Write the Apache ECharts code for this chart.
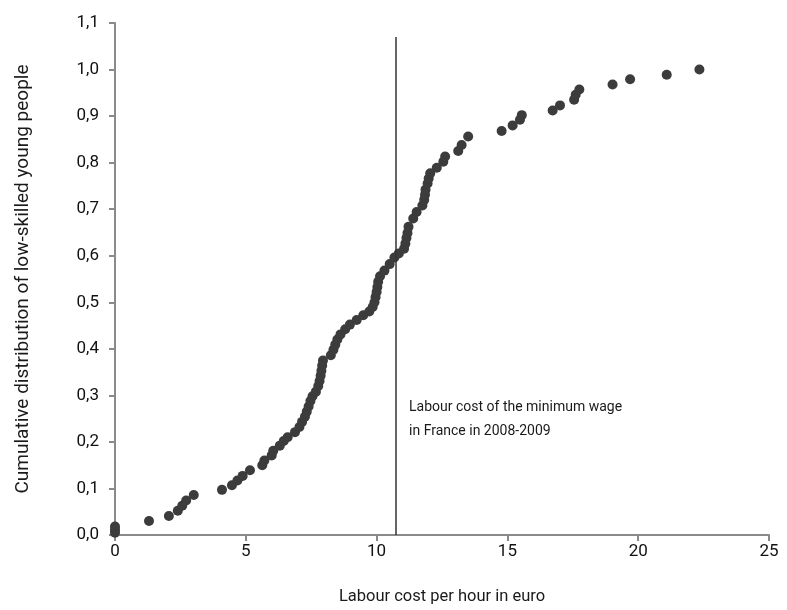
<!DOCTYPE html>
<html>
<head>
<meta charset="utf-8">
<script src="https://cdn.jsdelivr.net/npm/echarts@6/dist/echarts.min.js"></script>
<style>
html,body{margin:0;padding:0;background:#fff;}
#chart{width:787px;height:610px;}
</style>
</head>
<body>
<div id="chart"></div>
<script>
const costValues = [
  0, 0, 0, 1.3, 2.06, 2.40, 2.57, 2.72, 3.01, 4.09,
  4.47, 4.68, 4.88, 5.16, 5.63, 5.71, 5.99, 6.05, 6.30, 6.45,
  6.60, 6.88, 7.05, 7.15, 7.26, 7.33, 7.40, 7.47, 7.55, 7.68,
  7.77, 7.82, 7.86, 7.89, 7.92, 7.95, 8.25, 8.35, 8.42, 8.50,
  8.62, 8.80, 8.98, 9.24, 9.49, 9.72, 9.85, 9.92, 9.96, 10.00,
  10.03, 10.06, 10.13, 10.30, 10.50, 10.68, 10.85, 11.05, 11.10, 11.14,
  11.18, 11.22, 11.40, 11.53, 11.75, 11.82, 11.85, 11.87, 11.95, 11.99,
  12.05, 12.30, 12.55, 12.62, 13.12, 13.25, 13.50, 14.78, 15.20, 15.48,
  15.55, 16.73, 17.01, 17.55, 17.61, 17.75, 19.02, 19.69, 21.09, 22.34
];
const cumulativeShare = [
  0.005, 0.011, 0.018, 0.030, 0.041, 0.052, 0.063, 0.074, 0.086, 0.097,
  0.107, 0.117, 0.127, 0.139, 0.150, 0.160, 0.171, 0.181, 0.192, 0.202,
  0.210, 0.221, 0.232, 0.243, 0.254, 0.265, 0.276, 0.288, 0.298, 0.308,
  0.320, 0.331, 0.342, 0.353, 0.364, 0.375, 0.386, 0.398, 0.409, 0.420,
  0.431, 0.442, 0.452, 0.462, 0.472, 0.480, 0.490, 0.500, 0.511, 0.522,
  0.533, 0.544, 0.556, 0.568, 0.582, 0.596, 0.605, 0.615, 0.626, 0.638,
  0.649, 0.662, 0.680, 0.694, 0.708, 0.720, 0.731, 0.742, 0.755, 0.766,
  0.777, 0.789, 0.802, 0.813, 0.825, 0.838, 0.856, 0.868, 0.880, 0.892,
  0.902, 0.912, 0.923, 0.935, 0.946, 0.957, 0.968, 0.979, 0.989, 1.000
];
const minWageCost = 10.74;
const minWageLineTop = 1.07;
const annotationPos = [11.24, 0.249];
const annotationText = 'Labour cost of the minimum wage\nin France in 2008-2009';
const xAxisTitle = 'Labour cost per hour in euro';
const yAxisTitle = 'Cumulative distribution of low-skilled young people';

const points = costValues.map((x, i) => [x, cumulativeShare[i]]);
const FONT = 'Roboto';

const chart = echarts.init(document.getElementById('chart'), null, {renderer: 'canvas'});
chart.setOption({
  animation: false,
  backgroundColor: '#fff',
  grid: {left: 115, right: 18, top: 23, bottom: 74, containLabel: false},
  xAxis: {
    type: 'value', min: 0, max: 25, interval: 5,
    name: xAxisTitle, nameLocation: 'middle', nameGap: 53,
    nameTextStyle: {fontFamily: FONT, fontSize: 16.5, color: '#1a1a1a'},
    axisLine: {lineStyle: {color: '#8a8a8a', width: 2}},
    axisTick: {show: true, length: 6, lineStyle: {color: '#8a8a8a', width: 2}},
    axisLabel: {fontFamily: FONT, fontSize: 17, color: '#111', margin: 8},
    splitLine: {show: false}
  },
  yAxis: {
    type: 'value', min: 0, max: 1.1, interval: 0.1,
    name: yAxisTitle, nameLocation: 'middle', nameGap: 82,
    nameTextStyle: {fontFamily: FONT, fontSize: 19, color: '#1a1a1a'},
    axisLine: {show: true, lineStyle: {color: '#8a8a8a', width: 2}},
    axisTick: {show: true, length: 6, lineStyle: {color: '#8a8a8a', width: 2}},
    axisLabel: {fontFamily: FONT, fontSize: 17, color: '#111', margin: 16,
      formatter: v => v.toFixed(1).replace('.', ',')},
    splitLine: {show: false}
  },
  series: [{
    type: 'scatter',
    data: points,
    symbolSize: 10,
    itemStyle: {color: '#3c3c3c', opacity: 1},
    markLine: {
      silent: true, symbol: 'none', animation: false,
      lineStyle: {color: '#333', width: 1.5, type: 'solid'},
      label: {show: false},
      data: [[{coord: [minWageCost, 0]}, {coord: [minWageCost, minWageLineTop]}]]
    },
    markPoint: {
      silent: true, symbol: 'circle', symbolSize: 0,
      label: {
        show: true, position: 'right', distance: 0, align: 'left',
        formatter: annotationText,
        fontFamily: FONT, fontSize: 14, lineHeight: 24, color: '#1a1a1a'
      },
      data: [{coord: annotationPos}]
    }
  }]
});
</script>
</body>
</html>
